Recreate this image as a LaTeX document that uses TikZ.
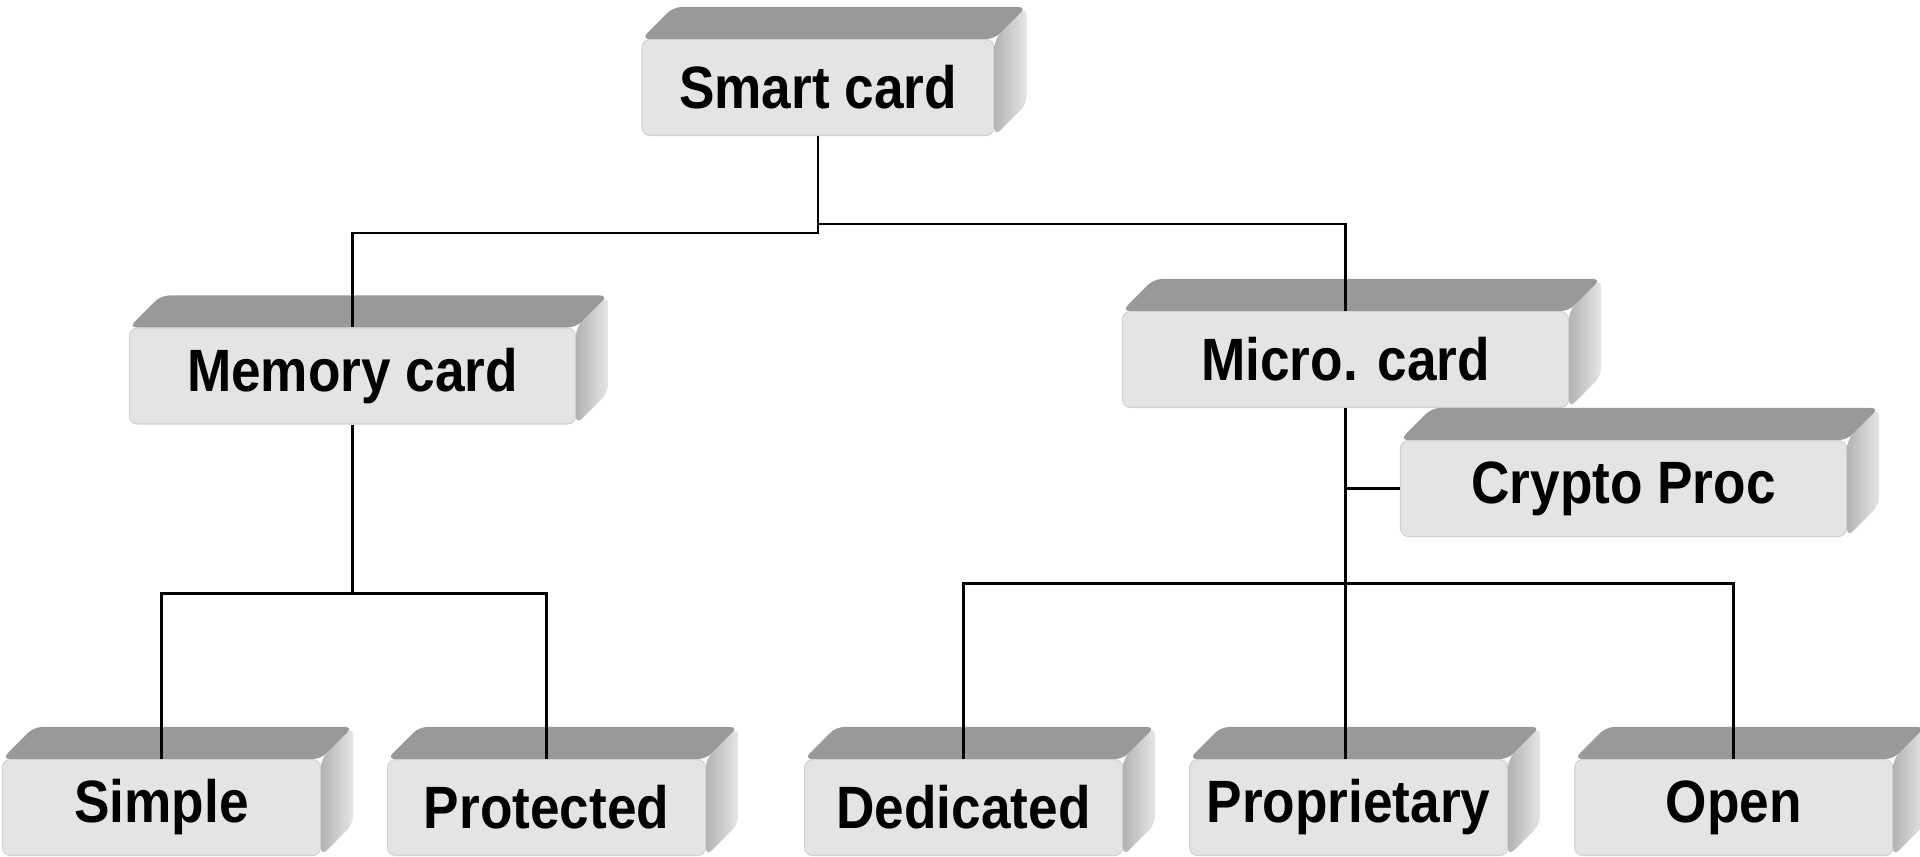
\documentclass[tikz,border=0pt]{standalone}
\usepackage{fontspec}
\setmainfont{Liberation Sans}[FakeStretch=0.89]
\usepackage{tikz}
\usepackage{xcolor}
\usetikzlibrary{positioning}

\definecolor{cardfront}{HTML}{E4E4E4}
\definecolor{cardtop}{HTML}{999999}

% top and side faces of a card, drawn from the front node's anchors
\newcommand{\cardfaces}[1]{%
  \fill[cardtop, rounded corners=0.08cm] (#1.north west) -- ++(0.32,0.32)
    -- ([shift={(0.32,0.32)}]#1.north east) -- (#1.north east) -- cycle;
  \shade[left color=gray!60, right color=gray!20, rounded corners=0.08cm]
    (#1.north east) -- ++(0.32,0.32) -- ([shift={(0.32,0.32)}]#1.south east)
    -- (#1.south east) -- cycle;
}

\begin{document}
\begin{tikzpicture}[
node distance=0.66cm,
cardbox/.style={fill=cardfront, draw=gray!35, line width=0.3pt, rounded corners=0.08cm,
  minimum height=0.96cm, inner sep=0pt, align=center,
  font=\fontsize{17}{19}\selectfont\bfseries},
wide/.style={cardbox, minimum width=4.46cm},
small/.style={cardbox, minimum width=3.18cm},
link/.style={line width=0.75pt, black}
]
\useasboundingbox (0,0) rectangle (19.2,8.56);

\node[cardbox, minimum width=3.52cm] (smart) at (8.18,7.685) {Smart card};
\node[wide] (memory) at (3.525,4.80) {Memory card};
\node[wide] (micro) at (13.455,4.965) {Micro. card};
\node[wide] (crypto) at (16.235,3.675) {Crypto Proc};
\node[small] (simple) at (1.615,0.485) {Simple};
\node[small, right=of simple] (protected) {Protected};
\node[small, right=0.98cm of protected] (dedicated) {Dedicated};
\node[small, right=of dedicated] (proprietary) {Proprietary};
\node[small, right=of proprietary] (open) {Open};

\foreach \c in {smart,memory,micro,crypto,simple,protected,dedicated,proprietary,open}
  {\cardfaces{\c}}

% joints of the tree
\coordinate (jl) at ([yshift=-9.7mm]smart.south);
\coordinate (jr) at ([yshift=-8.8mm]smart.south);
\coordinate (jm) at ([yshift=-16.9mm]memory.south);
\coordinate (jp) at ([yshift=-17.55mm]micro.south);

\draw[link] (smart.south) -- (jl) -| (memory.north);
\draw[link] (jr) -| (micro.north);
\draw[link] (memory.south) -- (jm);
\draw[link] (simple.north) |- (jm) -| (protected.north);
\draw[link] (micro.south) -- (micro.south |- proprietary.north);
\draw[link] (dedicated.north) |- (jp) -| (open.north);
\draw[link] (crypto.west) -- (crypto.west -| micro.south);
\end{tikzpicture}
\end{document}
